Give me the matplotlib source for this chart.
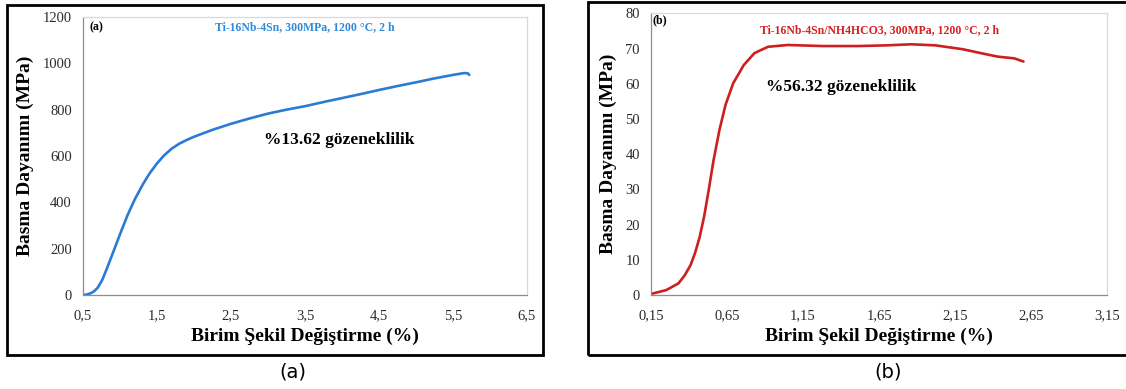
import matplotlib
matplotlib.use("Agg")
import matplotlib.pyplot as plt
from matplotlib.patches import Rectangle

# panel (a): Ti-16Nb-4Sn
strain_a = [0.50, 0.55, 0.60, 0.65, 0.70, 0.76, 0.83, 0.92, 1.00, 1.10, 1.20, 1.31, 1.40,
            1.50, 1.60, 1.70, 1.80, 1.90, 2.00, 2.25, 2.50, 2.75, 3.00, 3.25, 3.50,
            3.75, 4.00, 4.25, 4.50, 4.75, 5.00, 5.25, 5.50, 5.65, 5.70, 5.72]
stress_a = [0, 2, 7, 16, 32, 65, 120, 195, 262, 343, 413, 478, 525,
            568, 604, 632, 653, 669, 683, 713, 739, 762, 783, 800, 815,
            833, 850, 867, 885, 902, 918, 935, 950, 958, 957, 950]

# panel (b): Ti-16Nb-4Sn/NH4HCO3
strain_b = [0.15, 0.25, 0.33, 0.37, 0.41, 0.44, 0.47, 0.50, 0.53, 0.56, 0.60, 0.64, 0.69, 0.76,
            0.83, 0.92, 1.05, 1.28, 1.51, 1.70, 1.86, 2.02, 2.20, 2.34, 2.43, 2.54, 2.60]
stress_b = [0.3, 1.4, 3.3, 5.5, 8.5, 12.0, 16.5, 22.5, 30.0, 38.0, 46.9, 54.0, 60.1, 65.3,
            68.7, 70.5, 71.0, 70.7, 70.7, 70.9, 71.2, 70.9, 69.8, 68.5, 67.7, 67.2, 66.3]

xticks_a = [0.5, 1.5, 2.5, 3.5, 4.5, 5.5, 6.5]
yticks_a = [0, 200, 400, 600, 800, 1000, 1200]
xticks_b = [0.15, 0.65, 1.15, 1.65, 2.15, 2.65, 3.15]
yticks_b = [0, 10, 20, 30, 40, 50, 60, 70, 80]

xlabel = "Birim Şekil Değiştirme (%)"
ylabel = "Basma Dayanımı (MPa)"

plt.rcParams["font.family"] = ["Liberation Serif", "DejaVu Serif"]

fig = plt.figure(figsize=(11.26, 3.89), dpi=100)

# framed panels
fig.add_artist(Rectangle((0.0062, 0.0874), 0.476, 0.8997, transform=fig.transFigure,
                         fill=False, edgecolor="black", linewidth=2.0))
fig.add_artist(Rectangle((0.5222, 0.0874), 0.49, 0.9075, transform=fig.transFigure,
                         fill=False, edgecolor="black", linewidth=2.0))

ax_a = fig.add_axes([0.0737, 0.2416, 0.3943, 0.7147])
ax_b = fig.add_axes([0.5782, 0.2416, 0.4050, 0.7242])


def style_axes(ax, xticks, yticks, xfmt):
    ax.set_xlim(xticks[0], xticks[-1])
    ax.set_ylim(yticks[0], yticks[-1])
    ax.set_xticks(xticks)
    ax.set_xticklabels([xfmt.format(v).replace(".", ",") for v in xticks])
    ax.set_yticks(yticks)
    ax.tick_params(length=0, labelsize=10.5, labelcolor="#2b2b2b")
    ax.tick_params(axis="x", pad=10)
    ax.tick_params(axis="y", pad=8)
    for side in ["top", "right"]:
        ax.spines[side].set_color("#d9d9d9")
    for side in ["left", "bottom"]:
        ax.spines[side].set_color("#8c8c8c")
    for sp in ax.spines.values():
        sp.set_linewidth(0.9)
    ax.set_xlabel(xlabel, fontsize=14, fontweight="bold", labelpad=4)
    ax.set_ylabel(ylabel, fontsize=14, fontweight="bold", labelpad=6)


style_axes(ax_a, xticks_a, yticks_a, "{:.1f}")
style_axes(ax_b, xticks_b, yticks_b, "{:.2f}")

ax_a.plot(strain_a, stress_a, color="#2a7bd4", linewidth=1.9, solid_capstyle="round")
ax_b.plot(strain_b, stress_b, color="#cc1f1f", linewidth=1.9, solid_capstyle="round")

ax_a.text(0.03, 0.962, "(a)", transform=ax_a.transAxes, fontsize=8.5, fontweight="bold",
          ha="center", va="center")
ax_a.text(0.5, 0.965, "Ti-16Nb-4Sn, 300MPa, 1200 °C, 2 h", transform=ax_a.transAxes,
          fontsize=8.5, fontweight="bold", color="#2e8ad8", ha="center", va="center")
ax_a.text(2.95, 667, "%13.62 gözeneklilik", fontsize=12.5, fontweight="bold",
          ha="left", va="center")

ax_b.text(0.02, 0.974, "(b)", transform=ax_b.transAxes, fontsize=8.5, fontweight="bold",
          ha="center", va="center")
ax_b.text(0.5, 0.94, "Ti-16Nb-4Sn/NH4HCO3, 300MPa, 1200 °C, 2 h", transform=ax_b.transAxes,
          fontsize=8.5, fontweight="bold", color="#d62020", ha="center", va="center")
ax_b.text(0.906, 59, "%56.32 gözeneklilik", fontsize=12.5, fontweight="bold",
          ha="left", va="center")

fig.text(293 / 1126, 1 - 372 / 389, "(a)", fontsize=14, family="DejaVu Sans",
         ha="center", va="center")
fig.text(888 / 1126, 1 - 372 / 389, "(b)", fontsize=14, family="DejaVu Sans",
         ha="center", va="center")

fig.savefig("out.png", dpi=100)
